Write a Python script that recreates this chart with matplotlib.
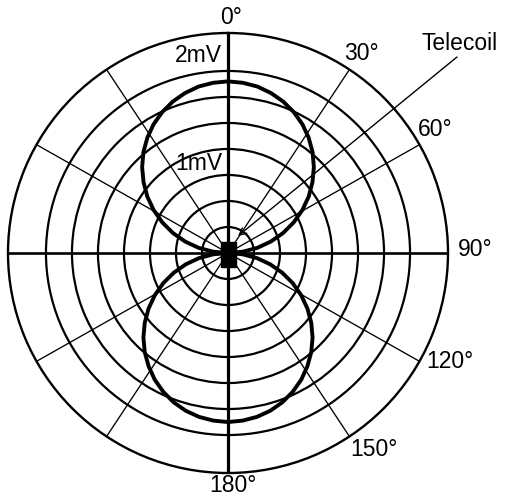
import numpy as np
import matplotlib
matplotlib.use("Agg")
import matplotlib.pyplot as plt
from matplotlib.patches import Rectangle

plt.rcParams['font.family'] = ['Liberation Sans', 'DejaVu Sans']

W, H = 505, 497

# Polar grid: ring levels and outer edge (grid units)
ring_levels = [1, 2, 3, 4, 5, 6, 7]
r_outer = 8.46

# Thin radial spokes (degrees, clockwise from top)
spoke_deg = [33.5, 60.5, 119.5, 146.5, 213.5, 240.5, 299.5, 326.5]
# Heavy axis lines
axis_deg = [0, 90, 180, 270]
axis_lw = [2.3, 1.9, 2.3, 1.9]

# Figure-eight pickup pattern, read every 5 degrees from 0 to 90
lobe_angle_deg = [0, 5, 10, 15, 20, 25, 30, 35, 40, 45, 50, 55, 60, 65, 70, 75, 80, 85, 90]
front_lobe = [6.60, 6.57, 6.50, 6.37, 6.20, 5.98, 5.72, 5.41, 5.06, 4.67, 4.24,
              3.79, 3.30, 2.79, 2.26, 1.71, 1.15, 0.58, 0.00]
rear_lobe = [6.50, 6.47, 6.40, 6.28, 6.11, 5.89, 5.63, 5.32, 4.98, 4.60, 4.18,
             3.73, 3.25, 2.75, 2.22, 1.68, 1.13, 0.57, 0.00]

angle_labels = ["0°", "30°", "60°", "90°", "120°", "150°", "180°"]
angle_label_px = [(231, 18), (361, 53), (435, 129), (475, 250), (450, 362), (374, 450), (233, 485)]
level_labels = ["2mV", "1mV"]
level_label_px = [(222, 55), (222, 163)]


def fx(x):
    return x / W


def fy(y):
    return 1 - y / H


cx, cy, rad = 228, 253, 220
fig = plt.figure(figsize=(W / 100, H / 100), dpi=100)
ax = fig.add_axes([fx(cx - rad), fy(cy + rad), 2 * rad / W, 2 * rad / H], projection='polar')
ax.set_theta_zero_location('N')
ax.set_theta_direction(-1)
ax.set_ylim(0, r_outer)

ax.set_yticks(ring_levels)
ax.set_xticks(np.deg2rad(spoke_deg))
ax.set_yticklabels([])
ax.set_xticklabels([])
ax.tick_params(length=0)
ax.yaxis.grid(True, color='black', lw=1.6)
ax.xaxis.grid(True, color='black', lw=0.95)
ax.spines['polar'].set_linewidth(1.7)
ax.spines['polar'].set_color('black')

for d, lw in zip(axis_deg, axis_lw):
    t = np.deg2rad(d)
    ax.plot([t, t], [0, r_outer], color='black', lw=lw, solid_capstyle='butt', zorder=3)

# Lobes: mirror the 0-90 readings to both sides
a = np.array(lobe_angle_deg, dtype=float)
fr = np.array(front_lobe)
rr = np.array(rear_lobe)
front_theta = np.deg2rad(np.concatenate([-a[::-1], a[1:]]))
front_r = np.concatenate([fr[::-1], fr[1:]])
rear_theta = np.deg2rad(np.concatenate([180 - a[::-1], 180 + a[1:]]))
rear_r = np.concatenate([rr[::-1], rr[1:]])
ax.plot(front_theta, front_r, color='black', lw=2.8, zorder=4)
ax.plot(rear_theta, rear_r, color='black', lw=2.8, zorder=4)

# Coil body at the centre
fig.add_artist(Rectangle((fx(220.5), fy(266.5)), 15 / W, 25 / H,
                         transform=fig.transFigure, color='black', zorder=6))

# Telecoil pointer
ax.annotate('', xy=(238, H - 236), xycoords='figure pixels',
            xytext=(457, H - 57), textcoords='figure pixels',
            arrowprops=dict(arrowstyle='->,head_length=0.5,head_width=0.25',
                            color='black', lw=1.0, shrinkA=0, shrinkB=0))
fig.text(fx(460), fy(43), "Telecoil", ha='center', va='center', fontsize=16.5)

for s, (x, y) in zip(angle_labels, angle_label_px):
    fig.text(fx(x), fy(y), s, ha='center', va='center', fontsize=16.5)
for s, (x, y) in zip(level_labels, level_label_px):
    fig.text(fx(x), fy(y), s, ha='right', va='center', fontsize=16.5)

fig.savefig("out.png", dpi=100, facecolor='white')
